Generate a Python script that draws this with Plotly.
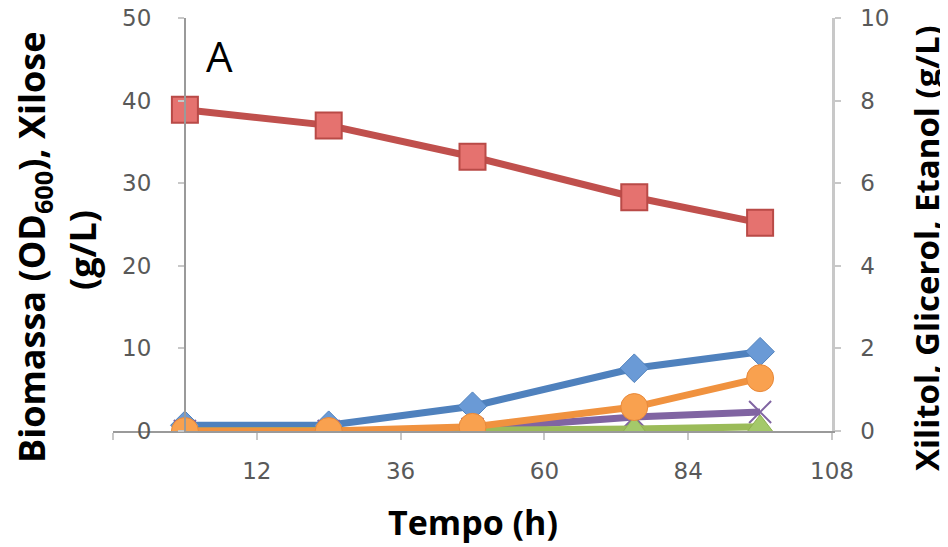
import plotly.graph_objects as go

tempo = [0, 24, 48, 75, 96]
xilose = [38.9, 37.0, 33.2, 28.3, 25.2]
biomassa = [0.7, 0.7, 3.0, 7.6, 9.6]
glicerol = [0.0, 0.0, 0.05, 0.34, 0.46]
etanol = [0.0, 0.0, 0.02, 0.05, 0.1]
xilitol = [0.0, 0.0, 0.1, 0.58, 1.28]

x_tickvals = [-12, 12, 36, 60, 84, 108]
x_ticktext = ["", "12", "36", "60", "84", "108"]
y1_ticks = [0, 10, 20, 30, 40, 50]
y2_ticks = [0, 2, 4, 6, 8, 10]
y2_ticktext = ["\u00a0\u00a0" + str(v) for v in y2_ticks]

OFF = 8  # page body margin
W, H = 948 - OFF, 547 - OFF
L = 113 - OFF
T = 18 - OFF
R = W - (832 - OFF)
B = H - (431 - OFF)
PW, PH = W - L - R, H - T - B

def px(x):
    return (x - OFF - L) / PW

def py(y):
    return (H - B - (y - OFF)) / PH

fig = go.Figure()
fig.add_trace(go.Scatter(x=tempo, y=xilose, mode="lines+markers", name="Xilose",
                         line=dict(color="#c0504d", width=7),
                         marker=dict(symbol="square", size=26, color="#e5726f",
                                     line=dict(color="#b94a47", width=2)), yaxis="y"))
fig.add_trace(go.Scatter(x=tempo, y=biomassa, mode="lines+markers", name="Biomassa",
                         line=dict(color="#4f81bd", width=7),
                         marker=dict(symbol="diamond", size=22, color="#6a9ad6",
                                     line=dict(color="#4f81bd", width=1)), yaxis="y"))
fig.add_trace(go.Scatter(x=tempo, y=glicerol, mode="lines+markers", name="Glicerol",
                         line=dict(color="#8064a2", width=7),
                         marker=dict(symbol="x-thin", size=22, color="#8064a2",
                                     line=dict(color="#8064a2", width=2)), yaxis="y2"))
fig.add_trace(go.Scatter(x=tempo, y=etanol, mode="lines+markers", name="Etanol",
                         line=dict(color="#9bbb59", width=7),
                         marker=dict(symbol="triangle-up", size=24, color="#a4c96a",
                                     line=dict(color="#8fb050", width=1)), yaxis="y2"))
fig.add_trace(go.Scatter(x=tempo, y=xilitol, mode="lines+markers", name="Xilitol",
                         line=dict(color="#f0923f", width=7),
                         marker=dict(symbol="circle", size=27, color="#f9a14f",
                                     line=dict(color="#e8893a", width=1)), yaxis="y2"))

tickfont = dict(family="DejaVu Sans", size=23, color="#595959")

fig.update_layout(
    width=W, height=H,
    margin=dict(l=L, r=R, t=T, b=B, autoexpand=False),
    plot_bgcolor="white", paper_bgcolor="white",
    showlegend=False,
    xaxis=dict(range=[-12, 108], tickvals=x_tickvals, ticktext=x_ticktext,
               showgrid=False, zeroline=False, showline=True, linecolor="#9a9a9a",
               linewidth=2, ticks="outside", ticklen=7, tickcolor="#c8c8c8", tickwidth=2,
               tickfont=tickfont, ticklabelstandoff=11, automargin=False,
               ticklabeloverflow="allow"),
    yaxis=dict(range=[0, 50], tickvals=y1_ticks, anchor="free", position=px(185),
               showgrid=False, zeroline=False, showline=True, linecolor="#9a9a9a",
               linewidth=2, ticks="outside", ticklen=6, tickcolor="#c8c8c8", tickwidth=2,
               tickfont=tickfont, ticklabelstandoff=22, automargin=False,
               ticklabeloverflow="allow"),
    yaxis2=dict(range=[0, 10], tickvals=y2_ticks, ticktext=y2_ticktext,
                overlaying="y", side="right",
                anchor="x", showgrid=False, zeroline=False, showline=True,
                linecolor="#c8c8c8", linewidth=3, ticks="outside", ticklen=6,
                tickcolor="#c8c8c8", tickwidth=2, tickfont=tickfont,
                automargin=False, ticklabeloverflow="allow"),
)

annots = [
    dict(text="<b>Tempo (h)</b>", x=px(473), y=py(522), textangle=0, size=34),
    dict(text="<b>Biomassa (OD<sub>600</sub>), Xilose</b>", x=px(33), y=py(248), textangle=-90, size=36),
    dict(text="<b>(g/L)</b>", x=px(82), y=py(250), textangle=-90, size=36),
    dict(text="<b>Xilitol, Glicerol, Etanol (g/L)</b>", x=px(926), y=py(248), textangle=-90, size=33),
]
for a in annots:
    s = a.pop("size")
    fig.add_annotation(xref="paper", yref="paper", showarrow=False,
                       xanchor="center", yanchor="middle",
                       font=dict(family="Open Sans", size=s, color="black"), **a)
fig.add_annotation(xref="paper", yref="paper", showarrow=False, text="A",
                   x=px(219), y=py(55), xanchor="center", yanchor="middle",
                   font=dict(family="Open Sans", size=42, color="black"))

fig.write_html("out.html")
